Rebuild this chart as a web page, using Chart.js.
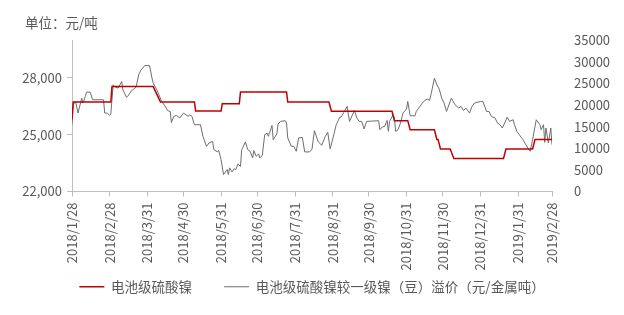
<!DOCTYPE html>
<html>
<head>
<meta charset="utf-8">
<script src="https://cdn.jsdelivr.net/npm/chart.js@4.4.1/dist/chart.umd.min.js"></script>
<style>
  html, body { margin: 0; padding: 0; background: #ffffff; }
  #wrap { position: relative; width: 624px; height: 315px; }
  #unit { position: absolute; left: 25px; top: 14px; font: 13.5px "Noto Sans CJK SC", sans-serif; color: #595959; line-height: 16px; }
  canvas { position: absolute; left: 0; top: 0; }
</style>
</head>
<body>
<div id="wrap">
  <canvas id="c" width="624" height="315"></canvas>
  <div id="unit">单位：元/吨</div>
</div>
<script>
// x values are day offsets from 2018/1/28
const tickDays = [0, 31, 62, 92, 123, 153, 184, 215, 245, 276, 306, 337, 368, 396];
const tickLabels = ['2018/1/28', '2018/2/28', '2018/3/31', '2018/4/30', '2018/5/31', '2018/6/30', '2018/7/31',
  '2018/8/31', '2018/9/30', '2018/10/31', '2018/11/30', '2018/12/31', '2019/1/31', '2019/2/28'];
const leftTicks = [22000, 25000, 28000];

const seriesNames = ['电池级硫酸镍', '电池级硫酸镍较一级镍（豆）溢价（元/金属吨）'];

const redDays = [0,1,32,33,67,73,101,102,123,124,138,139,177,178,212,214,264,266,277,279,299,301,302,304,312,315,356,358,380,382,396];
const redValues = [25800,26720,26720,27540,27540,26720,26720,26250,26250,26630,26630,27250,27250,26720,26720,26240,26240,25740,25740,25260,25260,24740,24740,24250,24250,23740,23740,24250,24250,24740,24740];

const grayDays = [
  0,1,3,5,8,9,11,12,15,17,
  26,27,29,31,32,34,35,38,41,42,
  45,46,49,52,53,55,57,60,64,66,
  67,70,74,77,79,81,82,84,86,89,
  92,96,97,99,101,106,108,111,113,116,
  117,120,121,123,125,128,129,130,132,134,
  135,137,139,140,141,143,145,147,149,150,
  152,154,155,157,159,161,162,165,166,169,
  170,172,176,177,178,181,183,185,187,190,
  192,196,198,200,203,206,209,211,213,216,
  218,221,222,224,227,228,229,231,233,235,
  237,239,241,243,253,254,256,258,260,261,
  262,265,266,267,269,271,273,276,277,279,
  283,284,287,290,293,295,297,299,301,303,
  305,307,309,313,316,319,321,323,325,328,
  330,332,337,339,342,344,346,349,351,353,
  355,357,359,361,364,365,367,372,376,378,
  380,383,386,387,389,390,391,393,395,396];
const grayValues = [
  15430,20040,20800,18120,21580,20430,21950,22960,22960,21190,
  21190,18120,18120,17570,17890,24640,24250,23880,25400,23490,
  21720,22000,23260,23880,24250,26950,28100,29090,29090,26190,
  25030,23490,20800,19650,18650,18500,15960,17340,17570,17000,
  18120,17340,17730,17340,15430,15430,12740,10430,11210,11580,
  9670,9140,9500,7370,3920,5070,3920,5460,4530,5300,
  5000,6380,5800,9670,10200,11450,9670,9290,7760,9460,
  8130,8700,7760,8400,13130,13500,12740,15270,11980,13290,
  15590,16190,16350,15820,12370,10430,10430,9290,12370,12500,
  9140,9140,9800,14050,11580,10660,12740,13660,9830,13130,
  15430,17200,17200,18120,19650,17730,16190,17500,18720,16970,
  16190,16190,14440,16190,16350,14280,14900,15040,16420,13890,
  16190,17730,17000,13890,14280,15820,18120,19050,20800,17500,
  17500,18490,19650,20800,21350,21030,23490,26190,24640,23650,
  21580,20430,18490,21580,20040,19280,19650,18720,19280,18120,
  19650,20430,20800,20800,18490,18490,17340,17000,15820,15430,
  14670,15820,17200,16190,16580,15430,13890,11980,10060,9290,
  11980,16580,15430,14280,15430,11350,14670,11210,14670,10820];

const toPoints = (xs, ys) => xs.map((x, i) => ({ x: x, y: ys[i] }));

const FONT = '"Noto Sans CJK SC", sans-serif';
const TXT = '#595959';
const AXIS = '#BFBFBF';

new Chart(document.getElementById('c'), {
  type: 'line',
  data: {
    datasets: [
      { label: seriesNames[0], data: toPoints(redDays, redValues), yAxisID: 'y',
        borderColor: '#C00000', backgroundColor: '#C00000', borderWidth: 1.5,
        pointRadius: 0, tension: 0, fill: false },
      { label: seriesNames[1], data: toPoints(grayDays, grayValues), yAxisID: 'y1',
        borderColor: '#6E6E6E', backgroundColor: '#6E6E6E', borderWidth: 1,
        pointRadius: 0, tension: 0, fill: false }
    ]
  },
  options: {
    responsive: false,
    devicePixelRatio: 1,
    animation: false,
    layout: { padding: { left: 0, right: 0, top: 40, bottom: 11.5 } },
    plugins: {
      title: { display: false },
      tooltip: { enabled: false },
      legend: {
        position: 'bottom',
        labels: {
          usePointStyle: true, pointStyle: 'line', pointStyleWidth: 25,
          padding: 32, color: TXT, font: { family: FONT, size: 13.5 }
        }
      }
    },
    scales: {
      x: {
        type: 'linear', min: tickDays[0], max: tickDays[tickDays.length - 1],
        afterBuildTicks: s => { s.ticks = tickDays.map(v => ({ value: v })); },
        afterFit: s => { s.height = 56.5; s._computeLabelArea = () => undefined; },
        grid: { display: true, drawOnChartArea: false, drawTicks: true, tickLength: 5, color: AXIS },
        border: { display: true, color: AXIS },
        ticks: {
          autoSkip: false, minRotation: 90, maxRotation: 90, padding: 6,
          color: TXT, font: { family: FONT, size: 13 },
          callback: (v, i) => tickLabels[i]
        }
      },
      y: {
        position: 'left', min: 22000, max: 30000,
        afterBuildTicks: s => { s.ticks = leftTicks.map(v => ({ value: v })); },
        afterFit: s => { s.width = 72; },
        grid: { display: true, drawOnChartArea: false, drawTicks: true, tickLength: 5, color: AXIS },
        border: { display: true, color: AXIS },
        ticks: {
          padding: 5, color: TXT, font: { family: FONT, size: 13 },
          callback: v => v.toLocaleString('en-US')
        }
      },
      y1: {
        position: 'right', min: 0, max: 35000,
        afterFit: s => { s.width = 72; },
        grid: { display: false, drawOnChartArea: false },
        border: { display: false },
        ticks: {
          stepSize: 5000, padding: 14, color: TXT, font: { family: FONT, size: 13 },
          callback: v => String(v)
        }
      }
    }
  }
});
</script>
</body>
</html>
